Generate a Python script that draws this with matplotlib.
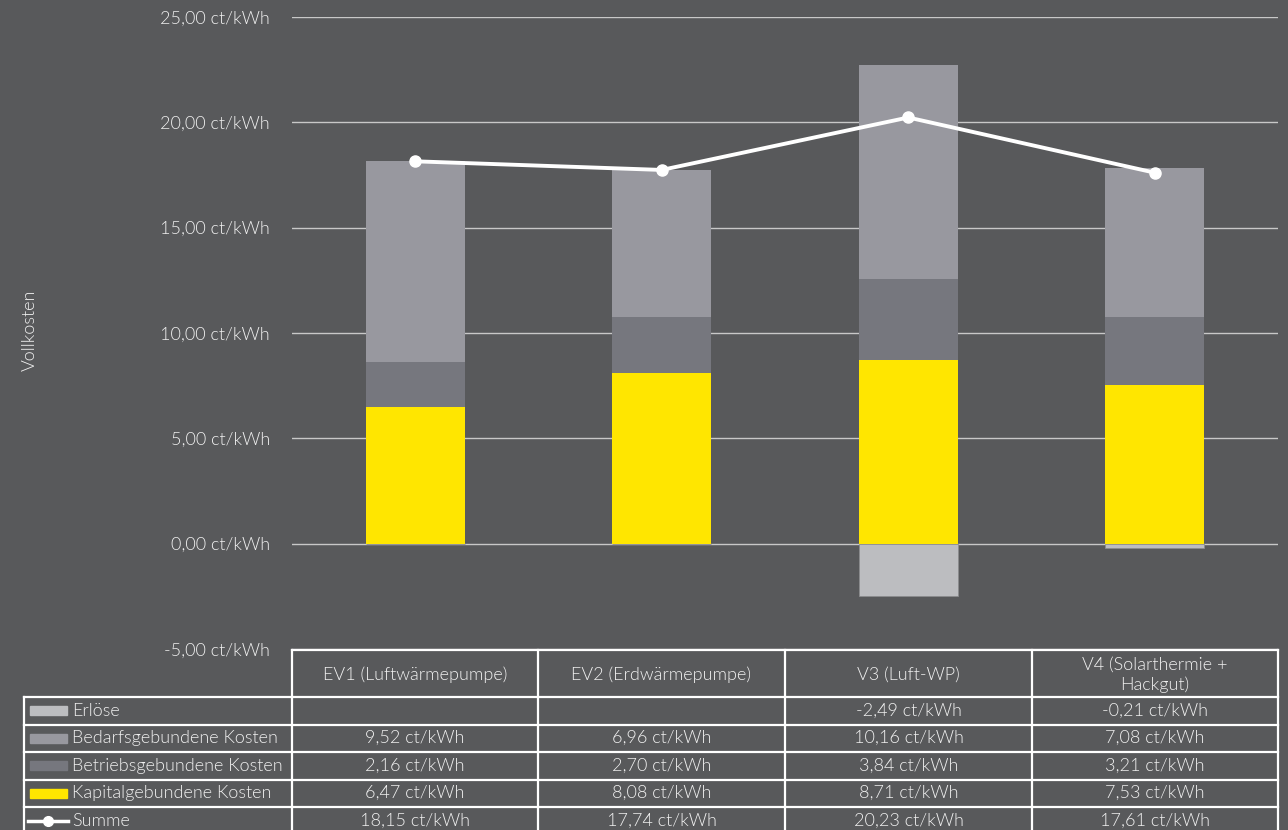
import numpy as np
import matplotlib.pyplot as plt

plt.rcParams['font.family'] = ['Lato', 'DejaVu Sans']
plt.rcParams['font.weight'] = 300

# Kostenbestandteile je Variante (ct/kWh)
varianten = ['EV1 (Luftwärmepumpe)', 'EV2 (Erdwärmepumpe)', 'V3 (Luft-WP)', 'V4 (Solarthermie +\nHackgut)']
erloese = [np.nan, np.nan, -2.49, -0.21]
bedarf = [9.52, 6.96, 10.16, 7.08]
betrieb = [2.16, 2.70, 3.84, 3.21]
kapital = [6.47, 8.08, 8.71, 7.53]
summe = [18.15, 17.74, 20.23, 17.61]
y_ticks = [-5, 0, 5, 10, 15, 20, 25]

reihen = ['Erlöse', 'Bedarfsgebundene Kosten', 'Betriebsgebundene Kosten', 'Kapitalgebundene Kosten', 'Summe']
farben = ['#bcbdc0', '#98989f', '#76777e', '#ffe600', 'white']

BG = '#58595b'
W, H = 1288, 830
FS = 13
TC = '#f0f0f0'

def fmt(v):
    return f"{v:.2f}".replace('.', ',') + ' ct/kWh'

fig = plt.figure(figsize=(W / 100, H / 100), dpi=100, facecolor=BG)

# Hauptdiagramm
left, right, top, bottom = 292, 1278, 17, 649
ax = fig.add_axes([left / W, 1 - bottom / H, (right - left) / W, (bottom - top) / H])
ax.set_facecolor(BG)
x = np.arange(len(varianten))
bw = 0.4
k = np.array(kapital)
b = np.array(betrieb)
ax.bar(x, kapital, bw, color=farben[3], zorder=2)
ax.bar(x, betrieb, bw, bottom=k, color=farben[2], zorder=2)
ax.bar(x, bedarf, bw, bottom=k + b, color=farben[1], zorder=2)
ax.bar(x, np.nan_to_num(erloese), bw, color=farben[0], edgecolor='#8a8b8e', linewidth=0.6, zorder=2)
ax.plot(x, summe, color='white', lw=2.8, marker='o', ms=8, zorder=3)

ax.set_xlim(-0.5, len(varianten) - 0.5)
ax.set_ylim(-5, 25)
ax.set_yticks(y_ticks)
ax.set_yticklabels([fmt(v) for v in y_ticks])
ax.tick_params(axis='y', length=0, pad=16, labelsize=FS, labelcolor=TC)
ax.set_xticks([])
ax.yaxis.grid(True, color='#c8c8c8', lw=1)
ax.set_axisbelow(True)
for s in ax.spines.values():
    s.set_visible(False)
fig.text(30 / W, 1 - 330 / H, 'Vollkosten', rotation=90, ha='center', va='center',
         fontsize=FS, color=TC)

# Datentabelle mit Legende darunter
tab = fig.add_axes([0, 0, 1, 1])
tab.set_xlim(0, W)
tab.set_ylim(H, 0)
tab.axis('off')
tab.patch.set_alpha(0)

cols = [292, 538, 785, 1032, 1278]
head_top, head_bot = 650, 697
row_h = 27.5
lw = 1.6
lc = 'white'

tab.plot([cols[0], cols[-1]], [head_top, head_top], color=lc, lw=lw)
for cx in cols:
    tab.plot([cx, cx], [head_top, H], color=lc, lw=lw)
tab.plot([24, 24], [head_bot, H], color=lc, lw=lw)
for i in range(len(reihen) + 1):
    yy = head_bot + i * row_h
    tab.plot([24, cols[-1]], [yy, yy], color=lc, lw=lw)

for j, name in enumerate(varianten):
    cx = (cols[j] + cols[j + 1]) / 2
    tab.text(cx, (head_top + head_bot) / 2 + 1, name, ha='center', va='center',
             fontsize=FS, color=TC, linespacing=1.3)

werte = [erloese, bedarf, betrieb, kapital, summe]
for i, (name, vals) in enumerate(zip(reihen, werte)):
    yc = head_bot + (i + 0.5) * row_h
    if name == 'Summe':
        tab.plot([28, 68], [yc, yc], color='white', lw=2.5)
        tab.plot([48], [yc], 'o', color='white', ms=7)
    else:
        tab.add_patch(plt.Rectangle((30, yc - 4.5), 37, 9, color=farben[i]))
    tab.text(72, yc, name, ha='left', va='center', fontsize=FS, color=TC)
    for j, v in enumerate(vals):
        if np.isnan(v):
            continue
        cx = (cols[j] + cols[j + 1]) / 2
        tab.text(cx, yc, fmt(v), ha='center', va='center', fontsize=FS, color=TC)

fig.savefig('out.png', dpi=100, facecolor=BG)
